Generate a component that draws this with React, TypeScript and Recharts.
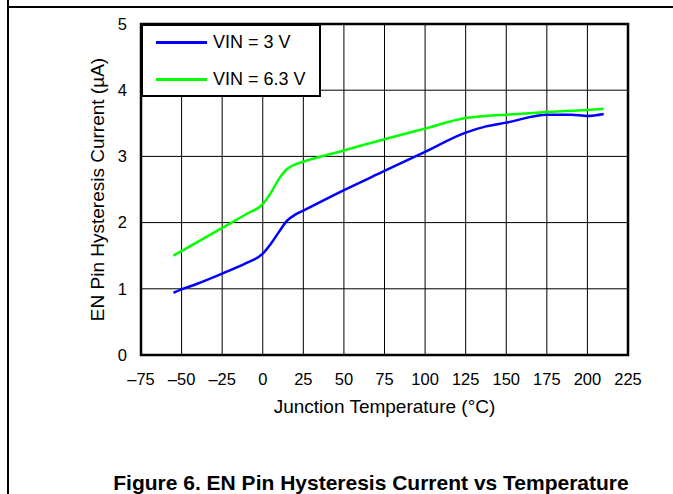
import {
  LineChart,
  Line,
  XAxis,
  YAxis,
  CartesianGrid,
  Legend,
  ReferenceArea,
  Label,
} from "recharts";

const temps = [-55, -50, -40, -25, -10, 0, 5, 10, 15, 20, 25, 50, 75, 100, 125, 137, 150, 175, 190, 200, 210];
const vin3 = [0.94, 0.99, 1.08, 1.23, 1.39, 1.53, 1.68, 1.86, 2.03, 2.12, 2.18, 2.49, 2.78, 3.07, 3.36, 3.45, 3.51, 3.63, 3.63, 3.61, 3.64];
const vin63 = [1.5, 1.57, 1.71, 1.92, 2.13, 2.28, 2.45, 2.66, 2.81, 2.88, 2.92, 3.09, 3.26, 3.42, 3.58, 3.61, 3.63, 3.67, 3.69, 3.7, 3.72];
const xTicks = [-75, -50, -25, 0, 25, 50, 75, 100, 125, 150, 175, 200, 225];
const yTicks = [0, 1, 2, 3, 4, 5];
const series = [
  { key: "v3", name: "VIN = 3 V", color: "#0000ff" },
  { key: "v63", name: "VIN = 6.3 V", color: "#00ff00" },
];

const data = temps.map((t, i) => ({ t, v3: vin3[i], v63: vin63[i] }));

const font = "Arial, 'Liberation Sans', sans-serif";

const LegendBox = () => (
  <div
    style={{
      position: "relative",
      width: 180,
      height: 73,
      boxSizing: "border-box",
      border: "2px solid #000",
      background: "#fff",
      fontFamily: font,
      fontSize: 18,
    }}
  >
    {series.map((s, i) => (
      <div
        key={s.key}
        style={{
          position: "absolute",
          left: 13,
          top: 16 + i * 37 - 11,
          height: 22,
          display: "flex",
          alignItems: "center",
          whiteSpace: "nowrap",
        }}
      >
        <span style={{ display: "inline-block", width: 51, height: 3, background: s.color, marginRight: 6 }} />
        <span>{s.name}</span>
      </div>
    ))}
  </div>
);

const fmt = (v: number) => String(v).replace("-", "\u2013");

export default function App() {
  return (
    <div style={{ position: "relative", width: 673, height: 494, background: "#fff", fontFamily: font, overflow: "hidden" }}>
      <style>{`body{margin:0}`}</style>
      <div style={{ position: "absolute", left: 7, top: 0, width: 2, height: 494, background: "#000" }} />
      <div style={{ position: "absolute", left: 7, top: 6, width: 666, height: 2, background: "#000" }} />
      <LineChart
        width={673}
        height={494}
        data={data}
        margin={{ top: 24, right: 45, left: 0, bottom: 0 }}
        style={{ position: "absolute", left: 0, top: 0 }}
      >
        <CartesianGrid stroke="#000" strokeWidth={1} />
        <XAxis
          dataKey="t"
          type="number"
          domain={[-75, 225]}
          ticks={xTicks}
          tickFormatter={fmt}
          height={139}
          axisLine={false}
          tickLine={false}
          tickMargin={12}
          tick={{ fill: "#000", fontSize: 16.5, fontFamily: font }}
          interval={0}
        >
          <Label
            content={({ viewBox }: any) => (
              <text
                x={viewBox.x + viewBox.width / 2}
                y={viewBox.y + 58}
                textAnchor="middle"
                fontSize={19}
                fontFamily={font}
                fill="#000"
              >
                Junction Temperature (°C)
              </text>
            )}
          />
        </XAxis>
        <YAxis
          type="number"
          domain={[0, 5]}
          ticks={yTicks}
          width={141}
          axisLine={false}
          tickLine={false}
          tickMargin={8}
          tick={{ fill: "#000", fontSize: 16.5, fontFamily: font }}
          interval={0}
        >
          <Label
            content={({ viewBox }: any) => {
              const cx = 104;
              const cy = viewBox.y + viewBox.height / 2;
              return (
                <text
                  x={cx}
                  y={cy}
                  transform={`rotate(-90 ${cx} ${cy})`}
                  textAnchor="middle"
                  fontSize={19}
                  fontFamily={font}
                  fill="#000"
                >
                  EN Pin Hysteresis Current (µA)
                </text>
              );
            }}
          />
        </YAxis>
        <ReferenceArea x1={-75} x2={225} y1={0} y2={5} fill="none" stroke="#000" strokeWidth={2.5} ifOverflow="visible" />
        {series.map((s) => (
          <Line
            key={s.key}
            dataKey={s.key}
            name={s.name}
            type="monotone"
            stroke={s.color}
            strokeWidth={2.5}
            dot={false}
            isAnimationActive={false}
          />
        ))}
        <Legend
          layout="horizontal"
          verticalAlign="middle"
          align="center"
          content={() => <LegendBox />}
          wrapperStyle={{ left: 141, top: 24, width: 180, height: 73 }}
        />
      </LineChart>
      <div
        style={{
          position: "absolute",
          left: 0,
          width: 742,
          top: 471,
          textAlign: "center",
          fontWeight: "bold",
          fontSize: 21,
          fontFamily: font,
          whiteSpace: "nowrap",
        }}
      >
        Figure 6. EN Pin Hysteresis Current vs Temperature
      </div>
    </div>
  );
}
